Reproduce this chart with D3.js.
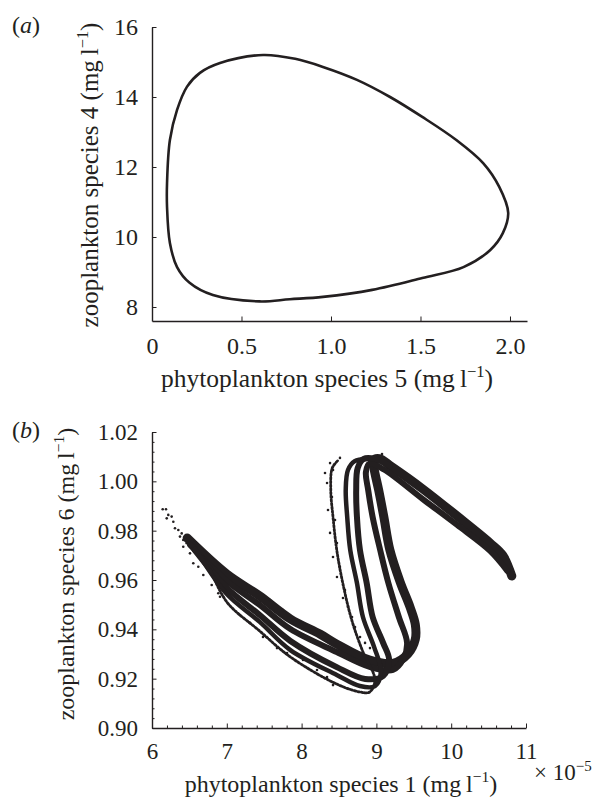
<!DOCTYPE html>
<html><head><meta charset="utf-8">
<script src="https://cdn.jsdelivr.net/npm/d3@7"></script>
<style>body{margin:0;background:#fff}</style>
</head><body>
<svg id="c" width="598" height="798"></svg>
<script>
// ---------- Panel (a) data: limit cycle (phytoplankton 5, zooplankton 4) ----------
const loopA = [
  [0.084,11.54],[0.10,12.77],[0.14,13.63],[0.195,14.29],[0.268,14.69],[0.38,14.97],[0.62,15.20],
  [0.80,15.09],[0.955,14.86],[1.145,14.49],[1.33,14.00],[1.51,13.43],[1.70,12.77],[1.85,12.11],
  [1.94,11.43],[1.99,10.69],[1.96,10.11],[1.89,9.63],[1.74,9.14],[1.51,8.83],[1.23,8.49],
  [0.955,8.29],[0.77,8.22],[0.60,8.16],[0.34,8.34],[0.21,8.69],[0.14,9.14],[0.10,9.83],[0.084,10.86]
];
const xTicksA = [0, 0.5, 1.0, 1.5, 2.0];
const xTickLabelsA = ["0", "0.5", "1.0", "1.5", "2.0"];
const yTicksA = [8, 10, 12, 14, 16];
const yTickLabelsA = ["8", "10", "12", "14", "16"];

// ---------- Panel (b) data: chaotic attractor (phytoplankton 1 [x1e-5], zooplankton 6) ----------
const strandA = [[6.47,0.9770],[7.00,0.9624],[7.44,0.9535],[7.85,0.9442],[8.25,0.9380],[8.47,0.9340],[8.91,0.9275],[9.22,0.9262],[9.42,0.9300],[9.52,0.9360],[9.52,0.9420],[9.45,0.9490],[9.32,0.9590],[9.18,0.9722],[9.10,0.9855],[9.03,0.9965],[8.97,1.0050],[8.96,1.0085],[9.04,1.0092],[9.20,1.0060],[9.62,0.9969],[10.08,0.9859],[10.52,0.9750],[10.69,0.9700],[10.81,0.9616]];
const strandB = [[6.51,0.9742],[7.00,0.9596],[7.44,0.9499],[7.85,0.9401],[8.47,0.9308],[8.91,0.9248],[9.22,0.9235],[9.36,0.9280],[9.41,0.9345],[9.30,0.9450],[9.16,0.9588],[9.05,0.9722],[8.95,0.9855],[8.89,0.9965],[8.86,1.0038],[8.91,1.0072],[9.10,1.0048],[9.62,0.9928],[10.08,0.9823],[10.52,0.9718],[10.75,0.9637]];
const strandC = [[6.57,0.9722],[7.00,0.9568],[7.44,0.9458],[7.85,0.9353],[8.47,0.9247],[8.85,0.9199],[9.09,0.9211],[9.17,0.9276],[9.09,0.9345],[8.95,0.9450],[8.87,0.9588],[8.78,0.9722],[8.74,0.9855],[8.73,0.9965],[8.75,1.0054],[8.83,1.0091],[8.98,1.0091],[9.18,1.0062]];
const strandD = [[6.64,0.9697],[7.00,0.9543],[7.44,0.9430],[7.85,0.9316],[8.47,0.9215],[8.78,0.9170],[8.98,0.9170],[9.06,0.9231],[8.97,0.9328],[8.82,0.9450],[8.74,0.9588],[8.65,0.9722],[8.61,0.9855],[8.59,0.9965],[8.62,1.0046],[8.71,1.0082],[8.87,1.0091]];
const strandE = [[6.78,0.9641],[7.00,0.9511],[7.44,0.9393],[7.85,0.9288],[8.47,0.9178],[8.78,0.9146],[8.91,0.9146],[8.98,0.9195],[8.81,0.9316],[8.67,0.9438],[8.55,0.9588],[8.47,0.9722],[8.42,0.9855],[8.39,0.9965],[8.41,1.0054],[8.49,1.0086]];
const tailDots = [[6.143,0.9887],[6.187,0.9887],[6.218,0.9864],[6.263,0.9857],[6.197,0.9850],[6.285,0.9836],[6.307,0.9810],[6.352,0.9803],[6.397,0.9789],[6.374,0.9776],[6.418,0.9762],[6.464,0.9749],[6.418,0.9735],[6.508,0.9708],[6.552,0.9668],[6.619,0.9654],[6.686,0.9620],[6.798,0.9580],[6.886,0.9546],[6.909,0.9532]];
const scatterDots = [[8.380,1.0074],[8.313,1.0034],[8.420,1.0046],[8.340,0.9993],[8.406,0.9936],[8.353,0.9884],[8.447,0.9843],[8.380,0.9791],[8.473,0.9750],[8.420,0.9693],[8.513,0.9653],[8.473,0.9612],[8.580,0.9559],[8.553,0.9527],[8.620,0.9491],[8.674,0.9450],[8.714,0.9409],[8.781,0.9369],[8.848,0.9345],[8.914,0.9324],[9.075,1.0111],[8.513,1.0095],[7.176,0.9458],[7.310,0.9426],[7.484,0.9369],[7.671,0.9324],[7.805,0.9304],[8.019,0.9276],[8.206,0.9235],[8.340,0.9207],[8.420,0.9174],[7.578,0.9519],[7.751,0.9478],[7.885,0.9438]];
const xTicksB = [6, 7, 8, 9, 10, 11];
const xTickLabelsB = ["6", "7", "8", "9", "10", "11"];
const yTicksB = [0.90, 0.92, 0.94, 0.96, 0.98, 1.00, 1.02];
const yTickLabelsB = ["0.90", "0.92", "0.94", "0.96", "0.98", "1.00", "1.02"];

// ---------- styles ----------
const INK = "#231f20";
const FONT = '"Liberation Serif","Times New Roman",serif';
const strandStyles = [
  {data: strandA, w: 9},
  {data: strandB, w: 6},
  {data: strandC, w: 6},
  {data: strandD, w: 4.5},
  {data: strandE, w: 2.8, dash: "1.8,1.9"}
];

const svg = d3.select("#c");

function axes(g, x, y, o) {
  const ax = d3.axisBottom(x).tickValues(o.xT).tickFormat((d,i)=>o.xL[i]).tickSizeInner(-4.5).tickSizeOuter(0).tickPadding(o.xPad);
  const ay = d3.axisLeft(y).tickValues(o.yT).tickFormat((d,i)=>o.yL[i]).tickSizeInner(-4.5).tickSizeOuter(0).tickPadding(14);
  g.append("g").attr("transform", `translate(0,${y.range()[0]})`).call(ax);
  g.append("g").attr("transform", `translate(${x.range()[0]},0)`).call(ay);
  if (o.xMinor) {
    g.append("g").attr("transform", `translate(0,${y.range()[0]})`)
      .call(d3.axisBottom(x).tickValues(o.xMinor).tickFormat("").tickSizeInner(-2.5).tickSizeOuter(0))
      .select(".domain").remove();
    g.append("g").attr("transform", `translate(${x.range()[0]},0)`)
      .call(d3.axisLeft(y).tickValues(o.yMinor).tickFormat("").tickSizeInner(-2.5).tickSizeOuter(0))
      .select(".domain").remove();
  }
  g.selectAll("g").attr("font-family", FONT);
  g.selectAll(".domain").attr("stroke", INK).attr("stroke-width", 1.4);
  g.selectAll(".tick line").attr("stroke", INK).attr("stroke-width", 1);
  g.selectAll(".tick text").attr("font-size", o.fs).attr("font-family", FONT).attr("fill", INK);
}

function supLabel(g, x, y, main, rotate, fs) {
  const t = g.append("text").attr("text-anchor", "middle").attr("font-size", fs).attr("font-family", FONT).attr("fill", INK)
    .attr("transform", `translate(${x},${y})` + (rotate ? " rotate(-90)" : ""));
  t.append("tspan").text(main);
  t.append("tspan").attr("dy", -fs*0.4).attr("font-size", fs*0.65).text("\u22121");
  t.append("tspan").attr("dy", fs*0.4).text(")");
  return t;
}

function panelLabel(x, y, letter, fs) {
  const t = svg.append("text").attr("x", x).attr("y", y).attr("font-size", fs).attr("font-family", FONT).attr("fill", INK);
  t.append("tspan").text("(");
  t.append("tspan").attr("font-style", "italic").text(letter);
  t.append("tspan").text(")");
}

// ---------- Panel (a) ----------
const xA = d3.scaleLinear().domain([0, 2.095]).range([152, 527]);
const yA = d3.scaleLinear().domain([7.6, 16]).range([321, 27]);
const gA = svg.append("g");
axes(gA, xA, yA, {xT: xTicksA, xL: xTickLabelsA, yT: yTicksA, yL: yTickLabelsA, xPad: 16, fs: 24});
gA.append("path").datum(loopA)
  .attr("d", d3.line().x(d=>xA(d[0])).y(d=>yA(d[1])).curve(d3.curveCatmullRomClosed.alpha(0.5)))
  .attr("fill", "none").attr("stroke", INK).attr("stroke-width", 2.6);
supLabel(gA, 98, 175, "zooplankton species 4 (mg\u2009l", true, 25);
supLabel(gA, 327, 387, "phytoplankton species 5 (mg\u2009l", false, 25.5);
panelLabel(12, 33, "a", 24);

// ---------- Panel (b) ----------
const xB = d3.scaleLinear().domain([6, 11]).range([152, 526]);
const yB = d3.scaleLinear().domain([0.90, 1.02]).range([728, 432]);
const gB = svg.append("g");
const xMinorB = d3.range(6, 11.001, 0.2).filter(v => Math.abs(v - Math.round(v)) > 1e-6);
const yMinorB = d3.range(0.90, 1.0201, 0.004).filter(v => Math.abs(v*50 - Math.round(v*50)) > 1e-6);
axes(gB, xB, yB, {xT: xTicksB, xL: xTickLabelsB, yT: yTicksB, yL: yTickLabelsB, xPad: 15, xMinor: xMinorB, yMinor: yMinorB, fs: 23});

const lineB = d3.line().x(d=>xB(d[0])).y(d=>yB(d[1])).curve(d3.curveCatmullRom.alpha(0.5));
strandStyles.forEach(s => {
  gB.append("path").datum(s.data).attr("d", lineB)
    .attr("fill", "none").attr("stroke", INK).attr("stroke-width", s.w)
    .attr("stroke-linecap", "round").attr("stroke-linejoin", "round")
    .attr("stroke-dasharray", s.dash || null);
});
gB.selectAll("circle.dot").data(tailDots.concat(scatterDots)).join("circle")
  .attr("class", "dot").attr("cx", d=>xB(d[0])).attr("cy", d=>yB(d[1])).attr("r", 1.3).attr("fill", INK);

supLabel(gB, 74, 574, "zooplankton species 6 (mg\u2009l", true, 24);
supLabel(gB, 341, 792, "phytoplankton species 1 (mg\u2009l", false, 24);
const tx = gB.append("text").attr("x", 534).attr("y", 780).attr("font-size", 23).attr("font-family", FONT).attr("fill", INK);
tx.append("tspan").text("\u00d7 10");
tx.append("tspan").attr("dy", -9).attr("font-size", 15).text("\u22125");
panelLabel(12, 438, "b", 24);
</script>
</body></html>
